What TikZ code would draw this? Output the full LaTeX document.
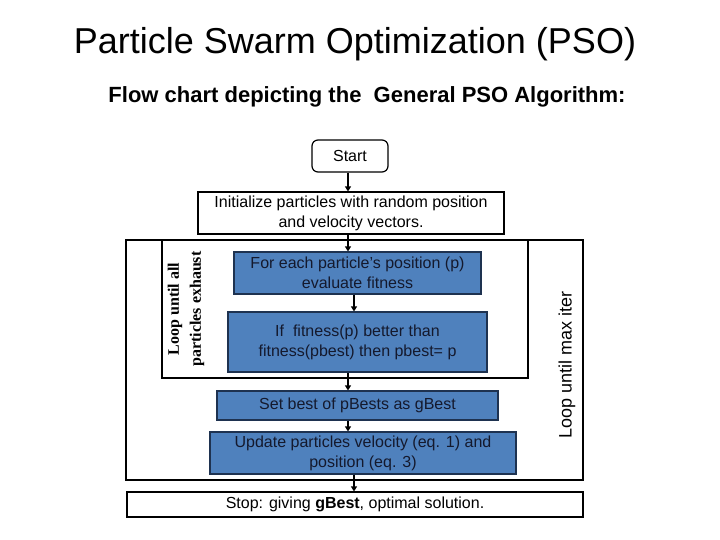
\documentclass[tikz,border=0pt]{standalone}
\usepackage{fontspec}
\setmainfont{Liberation Sans}
\newfontfamily\tnr{Liberation Serif}
\usetikzlibrary{arrows.meta}
\definecolor{boxblue}{RGB}{79,129,189}
\definecolor{boxedge}{RGB}{30,50,80}
\definecolor{btext}{RGB}{20,25,45}
\begin{document}
\begin{tikzpicture}[x=1pt,y=-1pt,
  plainbox/.style={draw=black, line width=1.2pt, fill=white, inner sep=0pt, align=center, font=\fontsize{16}{20}\selectfont},
  bluebox/.style={draw=boxedge, line width=1.2pt, fill=boxblue, text=btext, inner sep=0pt, align=center, font=\fontsize{16}{20}\selectfont},
  loopframe/.style={draw=black, line width=1.2pt, inner sep=0pt},
  arr/.style={line width=2pt, -{Triangle[length=5pt,width=6pt]}}]
\useasboundingbox (0,0) rectangle (720,540);
\fill[white] (0,0) rectangle (720,540);
% titles
\node[font=\fontsize{36}{40}\selectfont] (title) at (355,44) {Particle Swarm Optimization (PSO)};
\node[font=\bfseries\fontsize{22}{24}\selectfont] (sub) at (367,97) {Flow chart depicting the\ \ General PSO Algorithm:};
% loop frames
\node[loopframe, minimum width=457pt, minimum height=240pt] (outer) at (354.5,360) {};
\node[loopframe, minimum width=366pt, minimum height=138pt] (inner) at (345,309) {};
% boxes
\node[plainbox, rounded corners=6pt, minimum width=76pt, minimum height=32pt] (start) at (350,156) {Start};
\node[plainbox, minimum width=306pt, minimum height=42pt] (init) at (351,213) {Initialize particles with random position\\and velocity vectors.};
\node[bluebox, minimum width=247pt, minimum height=42pt] (each) at (357.5,273) {For each particle's position (p)\\evaluate fitness};
\node[bluebox, minimum width=259pt, minimum height=60pt] (iff) at (357.5,342) {If\ \ fitness(p) better than\\fitness(pbest) then pbest= p};
\node[bluebox, minimum width=281pt, minimum height=29pt] (setb) at (357.5,405.5) {Set best of pBests as gBest};
\node[bluebox, minimum width=306pt, minimum height=42pt] (upd) at (363,453) {Update particles velocity (eq. 1) and\\position (eq. 3)};
\node[plainbox, minimum width=456pt, minimum height=25pt] (stop) at (355,504.5) {Stop: giving \textbf{gBest}, optimal solution.};
% loop labels
\node[rotate=90, font=\tnr\bfseries\fontsize{16}{22}\selectfont, align=center] (lpa) at (186,309) {Loop until all\\particles exhaust};
\node[rotate=90, font=\fontsize{18}{20}\selectfont] (lpb) at (567,365) {Loop until max iter};
% arrows
\draw[arr] (start.south -| 348,0) -- (init.north -| 348,0);
\draw[arr] (init.south -| 348,0) -- (each.north -| 348,0);
\draw[arr] (each.south -| 354,0) -- (iff.north -| 354,0);
\draw[arr] (iff.south -| 348,0) -- (setb.north -| 348,0);
\draw[arr] (setb.south -| 348,0) -- (upd.north -| 348,0);
\draw[arr] (upd.south -| 354,0) -- (stop.north -| 354,0);
\end{tikzpicture}
\end{document}
